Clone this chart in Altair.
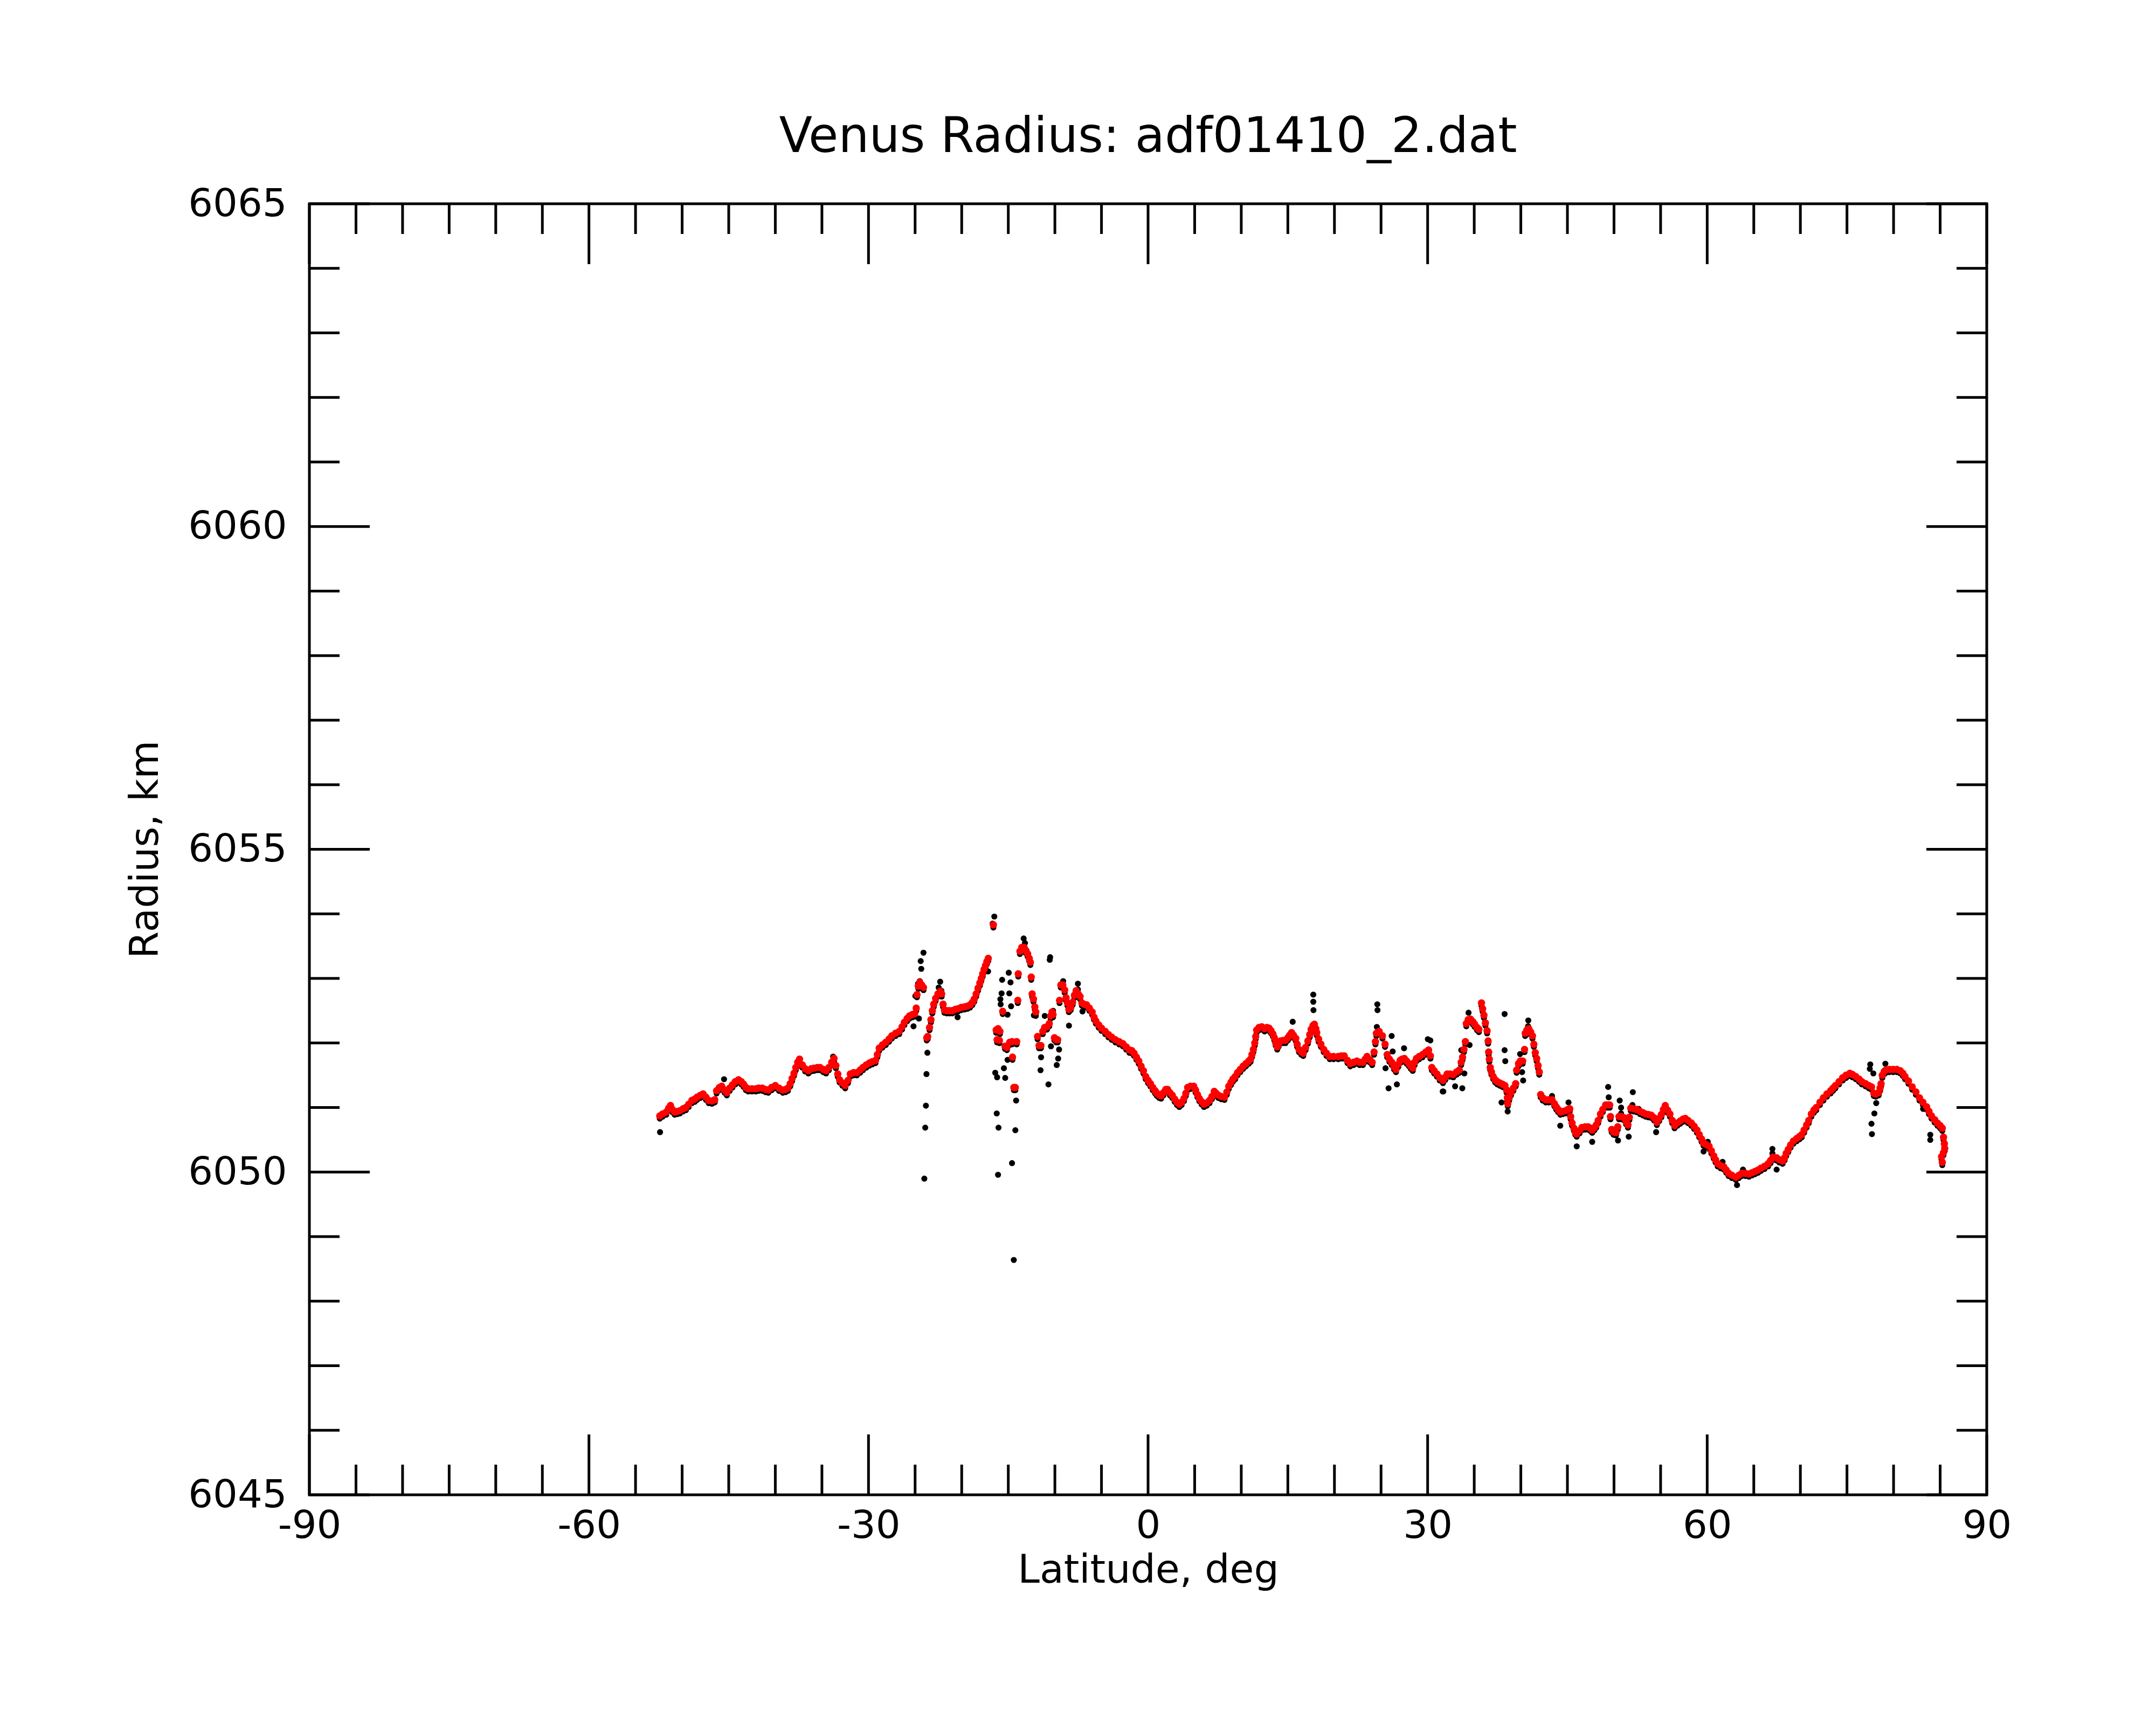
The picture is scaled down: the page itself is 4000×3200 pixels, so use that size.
import altair as alt
import pandas as pd

# ---------------- data (latitude deg, radius km) ----------------
red_south = [
    (-52.4, 6050.87), (-52.1, 6050.90), (-51.7, 6050.93), (-51.45, 6050.99), (-51.25, 6051.03),
    (-51.05, 6050.97), (-50.8, 6050.93), (-50.5, 6050.94), (-50.25, 6050.95), (-49.9, 6050.98),
    (-49.6, 6051.00), (-49.3, 6051.05), (-48.95, 6051.11), (-48.65, 6051.13), (-48.4, 6051.16),
    (-48.05, 6051.19), (-47.75, 6051.21), (-47.45, 6051.16), (-47.15, 6051.11), (-46.8, 6051.10),
    (-46.5, 6051.12), (-46.3, 6051.26), (-46.0, 6051.31), (-45.75, 6051.33), (-45.45, 6051.27),
    (-45.2, 6051.23), (-44.9, 6051.30), (-44.6, 6051.35), (-44.3, 6051.40), (-43.95, 6051.43),
    (-43.65, 6051.40), (-43.4, 6051.36), (-43.15, 6051.31), (-42.9, 6051.29), (-42.5, 6051.29),
    (-42.1, 6051.29), (-41.8, 6051.30), (-41.4, 6051.30), (-41.05, 6051.28), (-40.75, 6051.27),
    (-40.4, 6051.31), (-40.0, 6051.34), (-39.6, 6051.30), (-39.2, 6051.27), (-38.9, 6051.28),
    (-38.65, 6051.30), (-38.4, 6051.37), (-38.2, 6051.45), (-38.0, 6051.53), (-37.8, 6051.62),
    (-37.6, 6051.70), (-37.4, 6051.75), (-37.1, 6051.66), (-36.8, 6051.60), (-36.45, 6051.57),
    (-36.15, 6051.60), (-35.85, 6051.61), (-35.5, 6051.62), (-35.2, 6051.62), (-34.85, 6051.59),
    (-34.55, 6051.57), (-34.25, 6051.62), (-33.95, 6051.70), (-33.7, 6051.76), (-33.5, 6051.65),
    (-33.3, 6051.52), (-33.1, 6051.43), (-32.8, 6051.38), (-32.5, 6051.34), (-32.2, 6051.42),
    (-31.95, 6051.52), (-31.6, 6051.54), (-31.25, 6051.54), (-30.9, 6051.58), (-30.6, 6051.62),
    (-30.25, 6051.66), (-29.9, 6051.69), (-29.6, 6051.71), (-29.25, 6051.73), (-29.05, 6051.82),
    (-28.85, 6051.92), (-28.5, 6051.97), (-28.15, 6052.01), (-27.8, 6052.06), (-27.5, 6052.11),
    (-27.1, 6052.15), (-26.7, 6052.18), (-26.4, 6052.25), (-26.15, 6052.32), (-25.85, 6052.38),
    (-25.6, 6052.42), (-25.3, 6052.44), (-25.05, 6052.45), (-24.88, 6052.54), (-24.8, 6052.75),
    (-24.65, 6052.88), (-24.5, 6052.94), (-24.3, 6052.90), (-24.1, 6052.86), (-23.75, 6052.08),
    (-23.65, 6052.10), (-23.45, 6052.24), (-23.3, 6052.36), (-23.15, 6052.50), (-23.0, 6052.60),
    (-22.8, 6052.69), (-22.55, 6052.76), (-22.3, 6052.80), (-22.15, 6052.76), (-22.0, 6052.60),
    (-21.85, 6052.51), (-21.6, 6052.50), (-21.3, 6052.50), (-21.0, 6052.50), (-20.7, 6052.52),
    (-20.4, 6052.53), (-20.05, 6052.55), (-19.7, 6052.56), (-19.4, 6052.57), (-19.1, 6052.59),
    (-18.85, 6052.63), (-18.65, 6052.68), (-18.45, 6052.76), (-18.25, 6052.85), (-18.05, 6052.93),
    (-17.9, 6053.00), (-17.75, 6053.07), (-17.6, 6053.14), (-17.45, 6053.20), (-17.3, 6053.26),
    (-17.15, 6053.31), (-16.6, 6053.83),
    (-16.3, 6052.20), (-16.1, 6052.22), (-15.9, 6052.18), (-16.2, 6052.05), (-15.95, 6052.04),
    (-15.6, 6052.49), (-15.35, 6051.95), (-15.15, 6051.93), (-14.85, 6052.01), (-14.6, 6052.02),
    (-14.1, 6052.02), (-14.55, 6051.78), (-14.4, 6051.31), (-14.25, 6051.31), (-13.93, 6053.07),
    (-13.98, 6052.66),
]

red_equator = [
    (-13.75, 6053.42), (-13.55, 6053.48), (-13.3, 6053.48), (-13.1, 6053.43), (-12.92, 6053.38),
    (-12.75, 6053.31), (-12.63, 6053.25), (-12.54, 6053.02), (-12.44, 6052.76), (-12.3, 6052.68),
    (-12.15, 6052.56), (-12.05, 6052.48), (-11.86, 6052.10), (-11.7, 6051.96), (-11.5, 6051.96),
    (-11.3, 6052.18), (-11.1, 6052.24), (-10.85, 6052.25), (-10.6, 6052.30), (-10.45, 6052.42),
    (-10.3, 6052.48), (-10.2, 6052.44), (-10.05, 6052.08), (-9.85, 6052.05), (-9.7, 6052.05),
    (-9.5, 6052.66), (-9.36, 6052.90), (-9.15, 6052.90), (-8.95, 6052.82), (-8.8, 6052.70),
    (-8.65, 6052.62), (-8.5, 6052.52), (-8.3, 6052.55), (-8.1, 6052.63), (-7.9, 6052.74),
    (-7.72, 6052.81), (-7.5, 6052.76), (-7.3, 6052.72), (-7.1, 6052.62), (-6.9, 6052.60),
    (-6.6, 6052.59), (-6.3, 6052.54), (-6.0, 6052.48), (-5.8, 6052.40), (-5.6, 6052.34),
    (-5.3, 6052.28), (-5.0, 6052.23), (-4.6, 6052.18), (-4.25, 6052.13), (-3.9, 6052.09),
    (-3.5, 6052.05), (-3.1, 6052.02), (-2.7, 6051.99), (-2.35, 6051.94), (-2.0, 6051.89),
    (-1.74, 6051.88), (-1.5, 6051.84), (-1.25, 6051.78), (-1.0, 6051.72), (-0.75, 6051.64),
    (-0.5, 6051.57), (-0.25, 6051.48), (0.0, 6051.42), (0.25, 6051.37), (0.5, 6051.31),
    (0.75, 6051.26), (0.95, 6051.22), (1.2, 6051.19), (1.4, 6051.18), (1.65, 6051.23),
    (1.9, 6051.28), (2.1, 6051.28), (2.35, 6051.23), (2.6, 6051.19), (2.85, 6051.13),
    (3.1, 6051.08), (3.35, 6051.05), (3.6, 6051.08), (3.85, 6051.14), (4.05, 6051.22),
    (4.25, 6051.31), (4.55, 6051.33), (4.9, 6051.33), (5.1, 6051.27), (5.3, 6051.20),
    (5.5, 6051.14), (5.75, 6051.09), (6.0, 6051.05), (6.3, 6051.07), (6.6, 6051.11),
    (6.85, 6051.17), (7.1, 6051.25), (7.3, 6051.22), (7.55, 6051.19), (7.85, 6051.17),
    (8.2, 6051.16), (8.45, 6051.24), (8.66, 6051.33), (8.9, 6051.39), (9.1, 6051.44),
    (9.35, 6051.48), (9.6, 6051.54), (9.9, 6051.59), (10.2, 6051.64), (10.5, 6051.68),
    (10.8, 6051.72), (11.0, 6051.75), (11.15, 6051.82), (11.3, 6051.90), (11.45, 6052.00),
    (11.55, 6052.10), (11.65, 6052.20), (11.9, 6052.24), (12.2, 6052.25), (12.5, 6052.22),
    (12.75, 6052.24), (12.98, 6052.23), (13.2, 6052.19), (13.4, 6052.14), (13.55, 6052.08),
    (13.7, 6052.00), (13.86, 6051.94), (14.0, 6051.98), (14.2, 6052.03), (14.5, 6052.04),
    (14.75, 6052.04), (15.0, 6052.08), (15.2, 6052.12), (15.4, 6052.16), (15.6, 6052.12),
    (15.85, 6052.07), (16.0, 6051.98), (16.2, 6051.90), (16.45, 6051.86), (16.65, 6051.84),
    (16.9, 6051.93), (17.15, 6052.03), (17.35, 6052.13), (17.5, 6052.21), (17.7, 6052.27),
    (17.85, 6052.29), (18.0, 6052.22), (18.1, 6052.16), (18.3, 6052.06), (18.55, 6051.98),
    (18.85, 6051.90), (19.15, 6051.84), (19.5, 6051.79), (19.9, 6051.79), (20.4, 6051.79),
    (20.75, 6051.80), (21.05, 6051.80), (21.4, 6051.73), (21.7, 6051.68), (22.05, 6051.70),
    (22.4, 6051.72), (22.7, 6051.70), (23.05, 6051.70), (23.3, 6051.75), (23.5, 6051.79),
    (23.8, 6051.74), (24.05, 6051.70), (24.25, 6051.86), (24.4, 6052.02), (24.5, 6052.15),
    (24.8, 6052.18), (25.15, 6052.11), (25.43, 6051.98), (25.66, 6051.82), (25.9, 6051.75),
    (26.15, 6051.70), (26.4, 6051.63), (26.6, 6051.59), (26.85, 6051.67), (27.05, 6051.73),
    (27.25, 6051.75), (27.5, 6051.76), (27.75, 6051.72), (28.0, 6051.68), (28.2, 6051.64),
    (28.4, 6051.61), (28.6, 6051.70), (28.8, 6051.76), (29.1, 6051.79), (29.45, 6051.82),
    (29.8, 6051.86), (30.1, 6051.89), (30.3, 6051.80), (30.45, 6051.62), (30.7, 6051.57),
    (31.0, 6051.52), (31.3, 6051.46), (31.65, 6051.42), (31.9, 6051.47), (32.1, 6051.52),
    (32.4, 6051.52), (32.75, 6051.51), (33.1, 6051.55), (33.4, 6051.58),
]

red_north = [
    (33.6, 6051.70), (33.75, 6051.78), (33.9, 6051.90), (34.05, 6052.02), (34.15, 6052.30),
    (34.35, 6052.36), (34.6, 6052.37), (34.85, 6052.33), (35.05, 6052.29), (35.3, 6052.24),
    (35.5, 6052.21), (35.78, 6052.62), (35.9, 6052.53), (36.04, 6052.43), (36.2, 6052.31),
    (36.38, 6052.19), (36.49, 6052.03), (36.55, 6051.86), (36.62, 6051.75), (36.72, 6051.62),
    (36.85, 6051.55), (37.04, 6051.48), (37.25, 6051.43), (37.48, 6051.40), (37.75, 6051.38),
    (38.04, 6051.36), (38.3, 6051.34), (38.48, 6051.27), (38.55, 6051.15), (38.6, 6051.06),
    (38.75, 6051.15), (38.95, 6051.23), (39.2, 6051.30), (39.45, 6051.37), (39.55, 6051.58),
    (39.75, 6051.68), (39.95, 6051.72), (40.2, 6051.72), (40.4, 6051.90), (40.47, 6052.15),
    (40.65, 6052.20), (40.85, 6052.22), (41.05, 6052.17), (41.25, 6052.11), (41.4, 6051.98),
    (41.55, 6051.85), (41.7, 6051.76), (41.85, 6051.65), (41.98, 6051.55), (42.13, 6051.20),
    (42.35, 6051.15), (42.68, 6051.12), (43.0, 6051.12), (43.35, 6051.12), (43.6, 6051.06),
    (43.8, 6051.01), (44.0, 6050.97), (44.25, 6050.93), (44.5, 6050.94), (44.8, 6050.95),
    (45.05, 6050.97), (45.25, 6050.98), (45.35, 6050.86), (45.5, 6050.76), (45.7, 6050.68),
    (45.85, 6050.62), (46.0, 6050.59), (46.3, 6050.64), (46.56, 6050.69), (46.9, 6050.70),
    (47.22, 6050.70), (47.45, 6050.68), (47.66, 6050.65), (47.9, 6050.69), (48.1, 6050.73),
    (48.3, 6050.80), (48.55, 6050.90), (48.8, 6050.97), (49.1, 6051.04), (49.35, 6051.04),
    (49.54, 6051.04), (49.62, 6050.86), (49.75, 6050.66), (49.95, 6050.62), (50.21, 6050.61),
    (50.4, 6050.70), (50.54, 6050.86), (50.8, 6050.86), (51.09, 6050.84), (51.3, 6050.78),
    (51.5, 6050.73), (51.65, 6050.85), (51.8, 6050.99), (52.1, 6050.98), (52.42, 6050.97),
    (52.8, 6050.94), (53.1, 6050.92), (53.4, 6050.90), (53.7, 6050.89), (54.0, 6050.88),
    (54.3, 6050.84), (54.6, 6050.77), (54.85, 6050.83), (55.08, 6050.89), (55.3, 6050.97),
    (55.5, 6051.03), (55.75, 6050.96), (56.0, 6050.90), (56.25, 6050.80), (56.5, 6050.72),
    (56.8, 6050.76), (57.1, 6050.79), (57.4, 6050.82), (57.65, 6050.83), (57.95, 6050.80),
    (58.3, 6050.76), (58.6, 6050.71), (58.9, 6050.65), (59.15, 6050.58), (59.4, 6050.51),
    (59.6, 6050.45), (59.85, 6050.43), (60.2, 6050.40), (60.45, 6050.33), (60.7, 6050.25),
    (60.9, 6050.19), (61.13, 6050.13), (61.45, 6050.10), (61.78, 6050.08), (62.05, 6050.03),
    (62.3, 6049.98), (62.65, 6049.95), (63.07, 6049.92), (63.4, 6049.95), (63.71, 6049.98),
    (64.1, 6049.98), (64.48, 6049.97), (64.8, 6049.99), (65.13, 6050.01), (65.45, 6050.03),
    (65.77, 6050.06), (66.15, 6050.09), (66.54, 6050.13), (66.8, 6050.18), (67.06, 6050.23),
    (67.45, 6050.22), (67.75, 6050.19), (68.09, 6050.17), (68.3, 6050.22), (68.48, 6050.29),
    (68.7, 6050.35), (68.95, 6050.42), (69.25, 6050.48), (69.6, 6050.52), (69.9, 6050.55),
    (70.15, 6050.58), (70.4, 6050.65), (70.67, 6050.73), (70.9, 6050.80), (71.18, 6050.90),
    (71.45, 6050.96), (71.7, 6051.00), (72.1, 6051.08), (72.47, 6051.15), (72.85, 6051.21),
    (73.25, 6051.26), (73.5, 6051.30), (73.76, 6051.34), (74.15, 6051.40), (74.54, 6051.46),
    (74.9, 6051.50), (75.31, 6051.53), (75.6, 6051.51), (75.95, 6051.48), (76.3, 6051.44),
    (76.6, 6051.40), (77.0, 6051.37), (77.35, 6051.34), (77.63, 6051.32), (77.88, 6051.22),
    (78.1, 6051.21), (78.4, 6051.23), (78.55, 6051.30), (78.66, 6051.37), (78.79, 6051.50),
    (79.0, 6051.56), (79.17, 6051.58), (79.55, 6051.59), (79.95, 6051.59), (80.35, 6051.59),
    (80.72, 6051.57), (81.0, 6051.53), (81.23, 6051.48), (81.6, 6051.41), (82.0, 6051.32),
    (82.4, 6051.24), (82.78, 6051.15), (83.15, 6051.08), (83.55, 6051.01), (83.8, 6050.94),
    (84.07, 6050.87), (84.4, 6050.81), (84.71, 6050.76), (85.0, 6050.72), (85.23, 6050.68),
    (85.36, 6050.54), (85.45, 6050.44), (85.49, 6050.37), (85.35, 6050.30), (85.15, 6050.24),
    (85.23, 6050.15),
]

black_outliers = [
    (-52.37, 6050.66), (-45.5, 6051.48), (-33.8, 6051.83), (-24.97, 6052.77), (-24.68, 6052.96),
    (-24.4, 6053.31), (-24.34, 6053.19), (-24.1, 6053.44), (-24.5, 6053.00), (-24.59, 6052.42),
    (-25.17, 6052.30), (-23.68, 6051.89), (-23.78, 6051.56), (-23.84, 6051.07), (-23.91, 6050.73),
    (-24.01, 6049.94), (-22.31, 6052.99), (-22.47, 6052.90), (-22.18, 6052.85), (-20.44, 6052.44),
    (-17.17, 6053.15), (-16.5, 6054.00), (-16.68, 6053.89), (-15.66, 6053.02), (-14.95, 6053.13),
    (-14.76, 6052.98), (-15.72, 6052.81), (-14.89, 6052.81), (-15.85, 6052.72), (-15.82, 6052.64),
    (-14.7, 6052.61), (-15.08, 6052.48), (-16.4, 6051.58), (-16.2, 6051.51), (-15.47, 6051.65),
    (-15.33, 6051.50), (-15.08, 6051.78), (-16.24, 6050.95), (-16.05, 6050.73), (-16.1, 6050.00),
    (-14.6, 6050.18), (-14.24, 6050.69), (-14.16, 6051.15), (-14.41, 6048.68), (-13.35, 6053.66),
    (-13.21, 6053.59), (-10.51, 6053.37), (-10.55, 6053.33), (-12.25, 6052.47), (-12.05, 6052.46),
    (-11.09, 6052.46), (-10.19, 6052.54), (-10.42, 6051.99), (-11.48, 6051.82), (-11.54, 6051.62),
    (-10.69, 6051.40), (-9.55, 6051.94), (-9.65, 6051.80), (-9.8, 6051.70), (-9.11, 6053.00),
    (-8.49, 6052.31), (-7.53, 6052.96), (-7.53, 6052.87), (-7.04, 6052.53), (15.52, 6052.37),
    (17.73, 6052.79), (17.73, 6052.68), (17.75, 6052.55), (24.6, 6052.64), (24.62, 6052.55),
    (24.55, 6052.29), (25.48, 6051.65), (25.81, 6051.34), (26.14, 6052.15), (26.25, 6051.91),
    (26.7, 6051.40), (27.47, 6051.96), (30.02, 6052.10), (30.29, 6052.08), (31.62, 6051.29),
    (31.68, 6051.29), (32.95, 6051.37), (33.61, 6051.93), (33.72, 6051.34), (33.94, 6051.57),
    (34.39, 6052.51), (34.5, 6052.01), (37.93, 6051.12), (38.26, 6052.49), (38.26, 6051.93),
    (38.33, 6051.76), (38.59, 6050.98), (39.92, 6051.87), (40.14, 6051.59), (40.25, 6051.46),
    (40.78, 6052.30), (40.8, 6052.39), (43.35, 6051.22), (44.23, 6050.76), (45.12, 6051.12),
    (46.0, 6050.44), (47.66, 6050.51), (49.37, 6051.36), (49.43, 6051.20), (50.43, 6050.53),
    (50.61, 6051.15), (50.76, 6051.04), (50.76, 6050.95), (51.58, 6050.59), (51.98, 6051.08),
    (52.02, 6051.28), (52.64, 6051.02), (54.52, 6050.66), (55.46, 6051.06), (59.61, 6050.36),
    (60.06, 6050.51), (61.65, 6050.20), (63.2, 6049.84), (63.84, 6050.08), (67.0, 6050.40),
    (67.0, 6050.33), (67.45, 6050.08), (72.47, 6051.20), (77.45, 6051.64), (77.5, 6051.71),
    (77.63, 6050.79), (77.68, 6050.63), (77.83, 6051.57), (77.94, 6050.95), (78.14, 6051.11),
    (79.12, 6051.72), (83.17, 6051.02), (83.94, 6050.62), (83.94, 6050.54), (84.45, 6050.86),
]

x_major_ticks = [-90, -60, -30, 0, 30, 60, 90]
x_minor_ticks = [-85, -80, -75, -70, -65, -55, -50, -45, -40, -35, -25, -20, -15, -10, -5,
                 5, 10, 15, 20, 25, 35, 40, 45, 50, 55, 65, 70, 75, 80, 85]
y_major_ticks = [6045, 6050, 6055, 6060, 6065]
y_minor_ticks = [6046, 6047, 6048, 6049, 6051, 6052, 6053, 6054,
                 6056, 6057, 6058, 6059, 6061, 6062, 6063, 6064]

title_text = ["Venus Radius: adf01410_2.dat"]
x_title = "Latitude, deg"
y_title = "Radius, km"

# ---------------- layout ----------------
W, H = 3112, 2395
FONT = "DejaVu Sans"
MAJ, MIN = 112, 56
TW = 5

red_points = red_south + red_equator + red_north
red_df = pd.DataFrame(red_points, columns=["lat", "r"])
black_df = pd.DataFrame(red_points + black_outliers, columns=["lat", "r"])

xs = alt.Scale(domain=[-90, 90], nice=False, zero=False)
ys = alt.Scale(domain=[6045, 6065], nice=False, zero=False)

ax_x = alt.Axis(values=x_major_ticks, title=x_title, ticks=False, domain=False, grid=False,
                labelFont=FONT, labelFontSize=72, labelPadding=22, labelFlush=False,
                labelOverlap=False, labelLimit=1000, labelExpr="'' + datum.value",
                labelColor="black",
                titleFont=FONT, titleFontSize=73, titleFontWeight="normal", titleColor="black",
                titleBaseline="alphabetic", titleY=162, titleX=W / 2, titleAlign="center",
                titleLimit=2000)
ax_y = alt.Axis(values=y_major_ticks, title=y_title, ticks=False, domain=False, grid=False,
                labelFont=FONT, labelFontSize=72, labelPadding=42, labelFlush=False,
                labelOverlap=False, labelLimit=1000, labelExpr="'' + datum.value",
                labelColor="black",
                titleFont=FONT, titleFontSize=73, titleFontWeight="normal", titleColor="black",
                titleAngle=270, titleBaseline="alphabetic", titleX=-282, titleY=H / 2,
                titleAlign="center", titleLimit=2000)

X = alt.X("lat:Q", scale=xs, axis=ax_x)
Y = alt.Y("r:Q", scale=ys, axis=ax_y)


def xticks(vals, length):
    d = pd.DataFrame({"lat": vals})
    bottom = alt.Chart(d).mark_rule(color="black", strokeWidth=TW).encode(
        x=X, y=alt.value(H - length), y2=alt.value(H))
    top = alt.Chart(d).mark_rule(color="black", strokeWidth=TW).encode(
        x=X, y=alt.value(0), y2=alt.value(length))
    return [bottom, top]


def yticks(vals, length):
    d = pd.DataFrame({"r": vals})
    left = alt.Chart(d).mark_rule(color="black", strokeWidth=TW).encode(
        y=Y, x=alt.value(0), x2=alt.value(length))
    right = alt.Chart(d).mark_rule(color="black", strokeWidth=TW).encode(
        y=Y, x=alt.value(W - length), x2=alt.value(W))
    return [left, right]


black_layer = alt.Chart(black_df).mark_circle(color="black", size=125, opacity=1, yOffset=5).encode(x=X, y=Y)
red_layer = alt.Chart(red_df).mark_circle(color="red", size=185, opacity=1).encode(x=X, y=Y)

title_layer = alt.Chart(pd.DataFrame({"t": title_text})).mark_text(
    font=FONT, fontSize=90, color="black", align="center", baseline="alphabetic"
).encode(text="t:N", x=alt.value(W / 2), y=alt.value(-96))

layers = (xticks(x_major_ticks, MAJ) + xticks(x_minor_ticks, MIN)
          + yticks(y_major_ticks, MAJ) + yticks(y_minor_ticks, MIN)
          + [black_layer, red_layer, title_layer])

chart = alt.layer(*layers).properties(
    width=W, height=H,
    autosize=alt.AutoSizeParams(type="none"),
    padding={"left": 566, "top": 370, "right": 306, "bottom": 419},
    background="white",
).configure_view(stroke="black", strokeWidth=5)

chart.save("out.html", embed_options={"renderer": "svg", "actions": False})
